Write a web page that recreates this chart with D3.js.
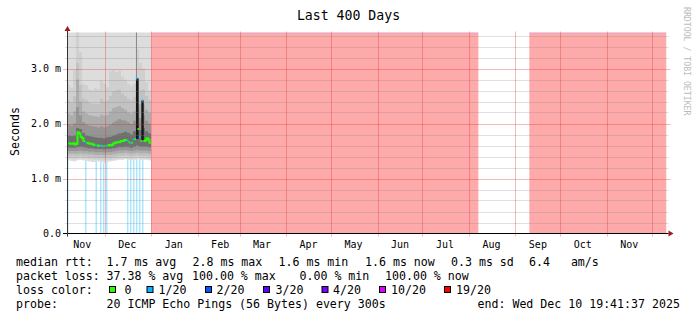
<!DOCTYPE html>
<html><head><meta charset="utf-8">
<script src="https://cdn.jsdelivr.net/npm/d3@7"></script>
<style>
html,body{margin:0;padding:0;background:#fff;}
svg{display:block;}
text{font-family:"DejaVu Sans Mono",monospace;}
</style></head><body>
<svg id="c" width="697" height="321"></svg>
<script>
// ---------------- DATA ----------------
const chartTitle = "Last 400 Days";
const yAxisLabel = "Seconds";
const watermark = "RRDTOOL / TOBI OETIKER";
const startTime = new Date(2024, 10, 5, 19, 41, 37);
const endTime = new Date(2025, 11, 10, 19, 41, 37);

const yTickValues = [0, 1, 2, 3];
const yTickLabels = ["0.0", "1.0 m", "2.0 m", "3.0 m"];
const xTickLabels = ["Nov","Dec","Jan","Feb","Mar","Apr","May","Jun","Jul","Aug","Sep","Oct","Nov"];

// daily median rtt (ms), first 56 days of the period
const medianMs = [1.64,1.64,1.63,1.63,1.64,1.62,1.63,1.84,1.82,1.76,
                  1.73,1.68,1.66,1.65,1.64,1.63,1.63,1.62,1.61,1.60,
                  1.60,1.59,1.60,1.59,1.58,1.59,1.60,1.60,1.61,1.60,
                  1.62,1.64,1.65,1.66,1.66,1.67,1.68,1.68,1.70,1.70,
                  1.69,1.66,1.64,1.65,1.71,1.72,2.82,1.90,1.75,1.68,
                  2.42,1.68,1.69,1.73,1.71,1.65];
// daily lost pings (of 20)
const lossCount = [1,0,0,0,0,0,0,0,0,0,
                   0,0,1,0,0,0,0,0,0,1,
                   0,0,1,0,1,0,1,0,0,0,
                   0,0,0,0,0,0,0,0,0,0,
                   1,0,1,0,1,0,1,0,1,0,
                   1,0,0,0,0,0];

// smoke (ping distribution), 2-day bins, 28 bins: lower / upper bounds of each shade band (ms)
const smokeLo0 = [1.33,1.32,1.31,1.33,1.34,1.33,1.32,1.31,1.30,1.30,1.31,1.30,1.29,1.30,1.31,1.32,1.33,1.34,1.34,1.35,1.34,1.33,1.34,1.35,1.34,1.34,1.34,1.33];
const smokeHi0 = [3.90,3.90,3.90,3.90,3.90,3.90,3.90,3.90,3.90,3.90,3.90,3.90,3.90,3.90,3.90,3.90,3.90,3.90,3.90,3.90,3.90,3.90,3.90,3.90,3.90,3.90,3.90,3.90];
const smokeLo1 = [1.36,1.36,1.35,1.36,1.37,1.36,1.36,1.35,1.35,1.34,1.34,1.34,1.33,1.34,1.34,1.35,1.36,1.37,1.37,1.38,1.37,1.36,1.37,1.38,1.37,1.37,1.37,1.36];
const smokeHi1 = [2.70,2.65,2.97,3.90,3.30,2.72,2.70,2.62,2.60,2.64,2.62,2.78,2.72,2.66,2.95,2.97,2.93,2.96,2.85,2.80,2.72,2.68,2.72,3.35,3.10,3.00,2.75,2.60];
const smokeLo2 = [1.40,1.40,1.40,1.40,1.41,1.40,1.40,1.39,1.39,1.38,1.38,1.38,1.37,1.38,1.38,1.39,1.40,1.41,1.41,1.42,1.41,1.40,1.41,1.42,1.41,1.41,1.41,1.40];
const smokeHi2 = [2.42,2.38,2.50,3.10,2.70,2.45,2.42,2.38,2.36,2.36,2.35,2.45,2.40,2.42,2.50,2.58,2.60,2.62,2.55,2.50,2.45,2.42,2.48,2.75,2.60,2.62,2.50,2.42];
const smokeLo3 = [1.45,1.45,1.45,1.45,1.46,1.45,1.45,1.44,1.44,1.43,1.43,1.43,1.42,1.43,1.43,1.44,1.45,1.46,1.46,1.47,1.46,1.45,1.46,1.47,1.46,1.46,1.46,1.45];
const smokeHi3 = [2.18,2.15,2.22,2.80,2.40,2.22,2.18,2.15,2.14,2.13,2.12,2.16,2.14,2.16,2.22,2.28,2.30,2.32,2.28,2.25,2.20,2.18,2.22,2.45,2.35,2.35,2.25,2.20];
const smokeLo4 = [1.50,1.50,1.50,1.50,1.51,1.50,1.50,1.49,1.49,1.48,1.48,1.48,1.47,1.48,1.48,1.49,1.50,1.51,1.51,1.52,1.51,1.50,1.51,1.52,1.51,1.51,1.51,1.50];
const smokeHi4 = [1.98,1.96,2.00,2.30,2.15,2.02,1.98,1.96,1.95,1.94,1.93,1.95,1.93,1.95,1.98,2.02,2.05,2.08,2.06,2.05,2.02,1.99,2.05,2.25,2.10,2.15,2.05,2.00];
const smokeLo5 = [1.56,1.56,1.56,1.57,1.58,1.57,1.56,1.55,1.55,1.54,1.54,1.54,1.53,1.54,1.54,1.55,1.56,1.57,1.57,1.58,1.57,1.56,1.58,1.60,1.58,1.58,1.58,1.57];
const smokeHi5 = [1.78,1.77,1.78,1.92,1.90,1.83,1.78,1.77,1.76,1.75,1.74,1.74,1.73,1.75,1.76,1.78,1.80,1.82,1.83,1.85,1.83,1.80,1.86,2.00,1.88,1.92,1.86,1.82];

// dense (dark) smoke columns: day offsets and ranges (ms)
const darkFromDay = [46.0, 49.6];
const darkToDay   = [47.8, 51.2];
const darkLo = [1.72, 1.70];
const darkHi = [2.82, 2.42];
// thin grey column above the 2.8 ms spike
const greyFromDay = [46.0];
const greyToDay = [46.7];
const greyLo = [2.82];
const greyHi = [3.90];

// periods with 100% loss
const outageStart = [new Date(2025, 0, 1, 0, 0), new Date(2025, 8, 10, 7, 0)];
const outageEnd   = [new Date(2025, 7, 7, 7, 0), endTime];
const outageLoss = [20, 20];

// loss colour scale
const lossLevels = [0, 1, 2, 3, 4, 10, 19];
const lossColors = ["#26ff00","#00b8ff","#0059ff","#5e00ff","#7e00ff","#dd00ff","#ff0000"];
const lossLabels = ["0","1/20","2/20","3/20","4/20","10/20","19/20"];

// legend
const legendRttLabel = "median rtt:";
const legendRtt = ["1.7 ms avg", "2.8 ms max", "1.6 ms min", "1.6 ms now", "0.3 ms sd", "6.4   am/s"];
const legendLossLabel = "packet loss:";
const legendLoss = ["37.38 % avg", "100.00 % max", "0.00 % min", "100.00 % now"];
const legendColorLabel = "loss color:";
const legendProbeLabel = "probe:";
const legendProbe = "20 ICMP Echo Pings (56 Bytes) every 300s";
const legendEnd = "end: Wed Dec 10 19:41:37 2025";

// ---------------- DRAW ----------------
const svg = d3.select("#c");
const L = 67, R = 666.5, T = 32.5, B = 233.5;
const DAY = 864e5;
const x = d3.scaleTime().domain([startTime, endTime]).range([L, R]);
const y = d3.scaleLinear().domain([0, (B - T) / 55]).range([B, T]);
const dayDate = d => new Date(+startTime + d * DAY);
const lossColor = n => { let c = lossColors[0]; lossLevels.forEach((l, i) => { if (n >= l) c = lossColors[i]; }); return c; };
const bgAlpha = 0.333;

svg.append("rect").attr("width", 697).attr("height", 321).attr("fill", "#fff");
svg.append("defs").append("clipPath").attr("id", "plot")
  .append("rect").attr("x", L).attr("y", T).attr("width", R - L).attr("height", B - T);
const g = svg.append("g").attr("clip-path", "url(#plot)");

// loss backgrounds
outageStart.forEach((s, i) => {
  g.append("rect").attr("x", x(s)).attr("y", T).attr("width", x(outageEnd[i]) - x(s)).attr("height", B - T)
    .attr("fill", lossColor(outageLoss[i])).attr("fill-opacity", bgAlpha);
  g.append("rect").attr("x", x(s)).attr("y", T - 0.5).attr("width", x(outageEnd[i]) - x(s)).attr("height", 1.2)
    .attr("fill", "#b48ce6").attr("fill-opacity", 0.6);
});
lossCount.forEach((n, i) => {
  if (n > 0) g.append("rect").attr("x", x(dayDate(i))).attr("y", T).attr("width", x(dayDate(i + 1)) - x(dayDate(i))).attr("height", B - T)
    .attr("fill", lossColor(n)).attr("fill-opacity", bgAlpha);
});

// smoke
const bands = [
  [smokeLo0, smokeHi0, "#dddddd"],
  [smokeLo1, smokeHi1, "#d0d0d0"],
  [smokeLo2, smokeHi2, "#c2c2c2"],
  [smokeLo3, smokeHi3, "#adadad"],
  [smokeLo4, smokeHi4, "#959595"],
  [smokeLo5, smokeHi5, "#707070"]
];
bands.forEach(([lo, hi, col]) => {
  lo.forEach((v, k) => {
    const x0 = x(dayDate(2 * k)), x1 = x(dayDate(2 * k + 2));
    g.append("rect").attr("x", x0).attr("width", x1 - x0 + 0.05)
      .attr("y", y(hi[k])).attr("height", y(v) - y(hi[k])).attr("fill", col);
  });
});
greyFromDay.forEach((d, i) => {
  const x0 = x(dayDate(d)), x1 = x(dayDate(greyToDay[i]));
  g.append("rect").attr("x", x0).attr("width", x1 - x0).attr("y", y(greyHi[i]))
    .attr("height", y(greyLo[i]) - y(greyHi[i])).attr("fill", "#8a8a8a");
});
darkFromDay.forEach((d, i) => {
  const x0 = x(dayDate(d)), x1 = x(dayDate(darkToDay[i]));
  g.append("rect").attr("x", x0).attr("width", x1 - x0).attr("y", y(darkHi[i]))
    .attr("height", y(darkLo[i]) - y(darkHi[i])).attr("fill", "#151515");
});

// median line, coloured by loss
const runs = [];
medianMs.forEach((v, i) => {
  const c = lossColor(lossCount[i]);
  const p = [[x(dayDate(i)), y(v)], [x(dayDate(i + 1)), y(v)]];
  if (runs.length && runs[runs.length - 1].c === c) runs[runs.length - 1].pts.push(...p);
  else runs.push({ c, pts: p });
});
runs.forEach(r => g.append("path").attr("d", d3.line()(r.pts)).attr("fill", "none")
  .attr("stroke", r.c).attr("stroke-width", 2));

// grid (on top)
const minorCol = "rgba(128,128,128,0.25)", majorCol = "rgba(220,40,40,0.32)";
y.ticks(20).forEach(v => {
  if (v === 0 || yTickValues.includes(v)) return;
  svg.append("line").attr("x1", L - 2).attr("x2", R + 2).attr("y1", Math.round(y(v)) + 0.5).attr("y2", Math.round(y(v)) + 0.5)
    .attr("stroke", minorCol);
});
yTickValues.forEach(v => {
  if (v === 0) return;
  svg.append("line").attr("x1", L - 4).attr("x2", R + 4).attr("y1", Math.round(y(v)) + 0.5).attr("y2", Math.round(y(v)) + 0.5)
    .attr("stroke", majorCol);
});
const months = d3.timeMonth.range(d3.timeMonth.ceil(startTime), endTime);
months.forEach(m => {
  const xx = Math.round(x(m)) + 0.5;
  svg.append("line").attr("x1", xx).attr("x2", xx).attr("y1", T - 1).attr("y2", B + 3).attr("stroke", majorCol);
});

// axes
svg.append("line").attr("x1", L - 4).attr("x2", R + 2).attr("y1", B).attr("y2", B).attr("stroke", "#000");
svg.append("line").attr("x1", L + 0.5).attr("x2", L + 0.5).attr("y1", B + 3).attr("y2", T - 3).attr("stroke", "#333");
svg.append("path").attr("d", `M${L - 2.5},${T - 1.5}L${L + 3.5},${T - 1.5}L${L + 0.5},${T - 6.5}Z`).attr("fill", "#a01818");
svg.append("path").attr("d", `M${R + 2},${B - 3}L${R + 2},${B + 3}L${R + 7},${B}Z`).attr("fill", "#a01818");

// y labels
yTickValues.forEach((v, i) => {
  svg.append("text").attr("x", 61).attr("y", y(v) + 3.5).attr("text-anchor", "end")
    .attr("font-size", 10).attr("fill", "#000").text(yTickLabels[i]);
});
// x labels at mid-month
const labelMonths = d3.timeMonth.range(d3.timeMonth.floor(startTime), endTime)
  .map(m => d3.timeDay.offset(m, 15)).filter(d => d >= startTime && d <= endTime);
labelMonths.forEach((d, i) => {
  svg.append("text").attr("x", x(d)).attr("y", 248).attr("text-anchor", "middle")
    .attr("font-size", 10).attr("fill", "#000").text(xTickLabels[i]);
});

// title, y label, watermark
svg.append("text").attr("x", 348.5).attr("y", 20).attr("text-anchor", "middle").attr("font-size", 13.2)
  .attr("fill", "#000").text(chartTitle);
svg.append("text").attr("transform", "translate(19,131.5) rotate(-90)").attr("text-anchor", "middle")
  .attr("font-size", 11.6).attr("fill", "#000").text(yAxisLabel);
svg.append("text").attr("transform", "translate(684,7) rotate(90)").attr("text-anchor", "start")
  .attr("font-size", 8.2).attr("fill", "#bbbbbb").text(watermark);

// legend
const lg = svg.append("g").attr("font-size", 11.6).attr("fill", "#000");
const tx = (xx, yy, s) => lg.append("text").attr("x", xx).attr("y", yy).style("white-space", "pre").text(s);
const rowY = [265.5, 279.5, 293.5, 307.5];
tx(16, rowY[0], legendRttLabel);
[106.5, 192.5, 278.5, 365, 451, 529].forEach((xx, i) => tx(xx, rowY[0], legendRtt[i]));
tx(16, rowY[1], legendLossLabel);
[106.5, 192, 299.5, 385].forEach((xx, i) => tx(xx, rowY[1], legendLoss[i]));
tx(16, rowY[2], legendColorLabel);
const boxX = [109, 146.5, 205, 263, 321.5, 379, 444];
const labX = [124.5, 158.5, 216.5, 275.5, 333, 391, 456];
lossColors.forEach((c, i) => {
  lg.append("rect").attr("x", boxX[i] + 0.5).attr("y", 286.5).attr("width", 6).attr("height", 6)
    .attr("fill", c).attr("stroke", "#000").attr("stroke-width", 1);
  tx(labX[i], rowY[2], lossLabels[i]);
});
tx(16, rowY[3], legendProbeLabel);
tx(106.5, rowY[3], legendProbe);
tx(477.5, rowY[3], legendEnd);
</script>
</body></html>
